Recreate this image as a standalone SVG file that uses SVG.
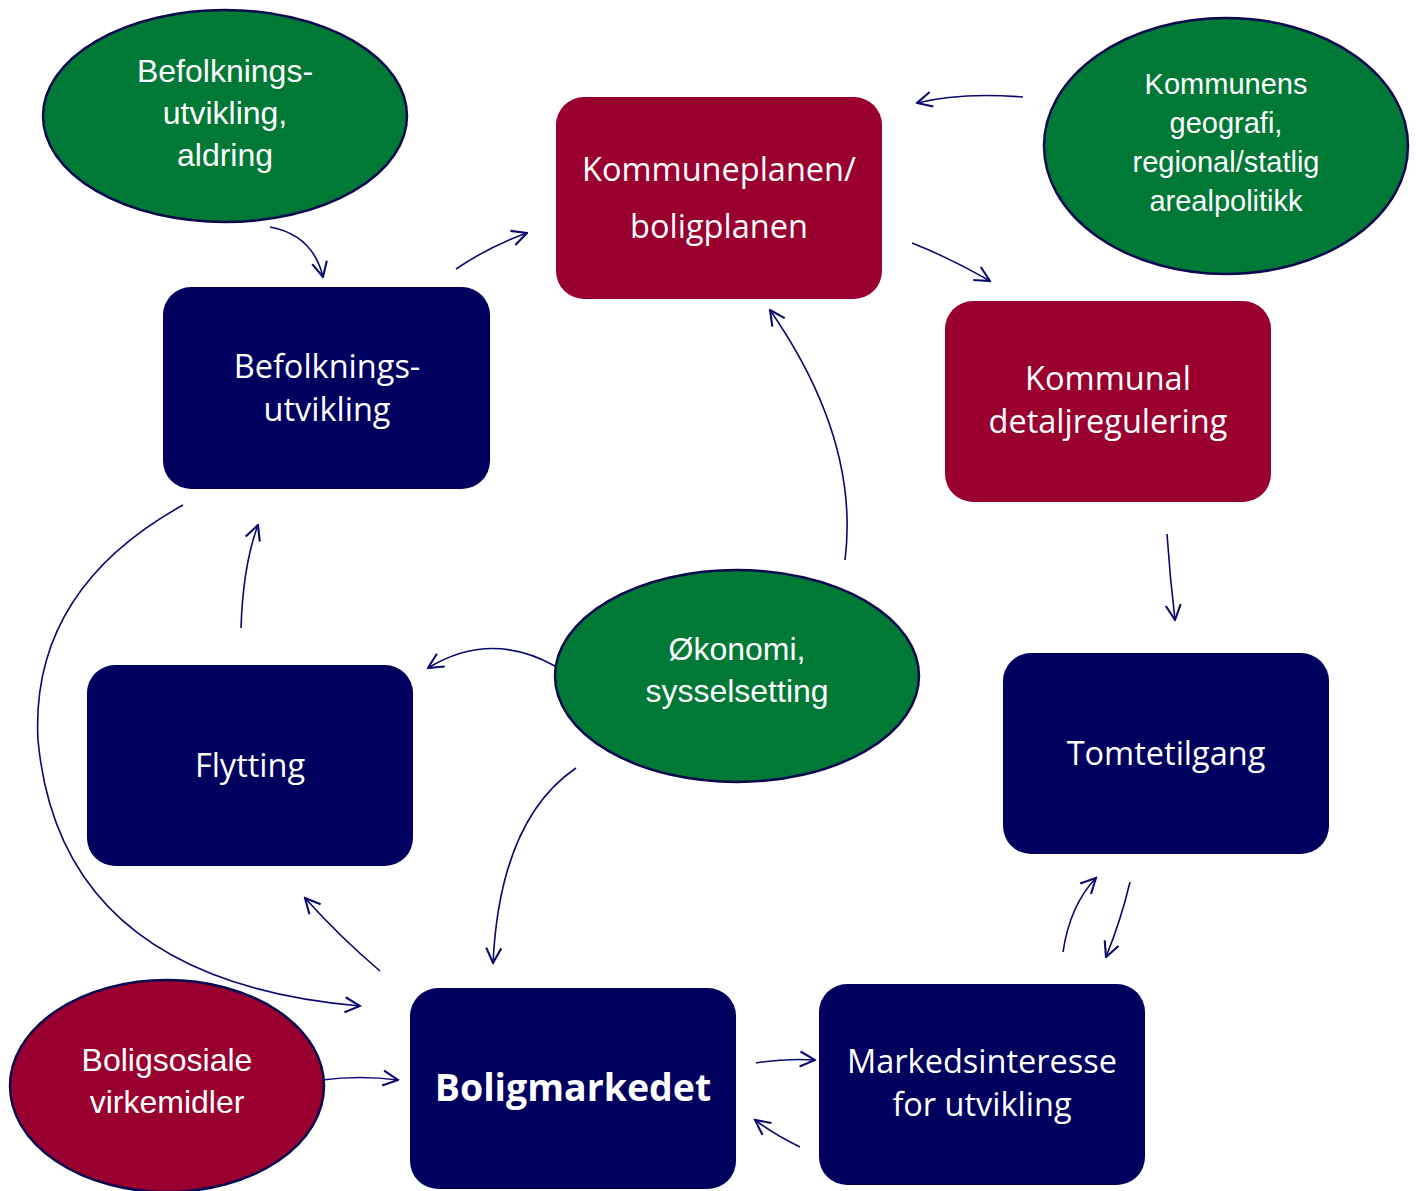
<svg xmlns="http://www.w3.org/2000/svg" width="1416" height="1191" viewBox="0 0 1416 1191">
<defs>
<marker id="arr" viewBox="0 0 12 12" refX="11" refY="6" markerWidth="18" markerHeight="18" markerUnits="userSpaceOnUse" orient="auto">
<path d="M1,1 L11,6 L1,11" fill="none" stroke="#0a0a6e" stroke-width="1.4"/>
</marker>
<style>
.box{stroke:none}
.navy{fill:#00005f}
.red{fill:#99002f}
.green{fill:#007836}
.ell{stroke:#0a0a50;stroke-width:2.5}
.bt{font-family:"Open Sans","Noto Sans",sans-serif;font-size:32.5px;fill:#fff;text-anchor:middle}
.et{font-family:"Liberation Sans",Arial,sans-serif;font-size:32px;fill:#fff;text-anchor:middle}
.c path{fill:none;stroke:#0a0a6e;stroke-width:1.6;marker-end:url(#arr)}
</style>
</defs>
<rect width="1416" height="1191" fill="#fff"/>
<g id="n-befolkning-ell"><ellipse class="green ell" cx="225" cy="116" rx="182" ry="106"/>
<text class="et" x="225" y="82">Befolknings-</text><text class="et" x="225" y="124">utvikling,</text><text class="et" x="225" y="166">aldring</text></g>
<g id="n-kommunens"><ellipse class="green ell" cx="1226" cy="146" rx="182" ry="128"/>
<text class="et" style="font-size:29px" x="1226" y="94">Kommunens</text><text class="et" style="font-size:29px" x="1226" y="133">geografi,</text><text class="et" style="font-size:29px" x="1226" y="172">regional/statlig</text><text class="et" style="font-size:29px" x="1226" y="211">arealpolitikk</text></g>
<g id="n-okonomi"><ellipse class="green ell" cx="737" cy="676" rx="182" ry="106"/>
<text class="et" x="737" y="660">Økonomi,</text><text class="et" x="737" y="702">sysselsetting</text></g>
<g id="n-boligsosiale"><ellipse class="red ell" cx="167" cy="1086" rx="157" ry="106"/>
<text class="et" x="167" y="1071">Boligsosiale</text><text class="et" x="167" y="1113">virkemidler</text></g>
<g id="n-kommuneplanen"><rect class="red" x="556" y="97" width="326" height="202" rx="28"/>
<text class="bt" x="719" y="181">Kommuneplanen/</text><text class="bt" x="719" y="238">boligplanen</text></g>
<g id="n-befolkning-box"><rect class="navy" x="163" y="287" width="327" height="202" rx="28"/>
<text class="bt" x="327" y="378">Befolknings-</text><text class="bt" x="327" y="421">utvikling</text></g>
<g id="n-detaljregulering"><rect class="red" x="945" y="301" width="326" height="201" rx="28"/>
<text class="bt" x="1108" y="390">Kommunal</text><text class="bt" x="1108" y="433">detaljregulering</text></g>
<g id="n-flytting"><rect class="navy" x="87" y="665" width="326" height="201" rx="28"/>
<text class="bt" x="250" y="777">Flytting</text></g>
<g id="n-tomtetilgang"><rect class="navy" x="1003" y="653" width="326" height="201" rx="28"/>
<text class="bt" x="1166" y="765">Tomtetilgang</text></g>
<g id="n-boligmarkedet"><rect class="navy" x="410" y="988" width="326" height="201" rx="28"/>
<text class="bt" style="font-size:37.5px;font-weight:bold" x="573" y="1101">Boligmarkedet</text></g>
<g id="n-markedsinteresse"><rect class="navy" x="819" y="984" width="326" height="201" rx="28"/>
<text class="bt" x="982" y="1073">Markedsinteresse</text><text class="bt" x="982" y="1116">for utvikling</text></g>
<g id="connectors" class="c">
<path d="M270,227 Q313,235 323,277"/>
<path d="M456,269 Q490,246 527,233"/>
<path d="M1023,97 Q960,92 917,103"/>
<path d="M912,243 Q950,258 990,281"/>
<path d="M845,560 Q860,440 770,310"/>
<path d="M1167,534 Q1170,578 1175,620"/>
<path d="M555,666 Q490,630 428,668"/>
<path d="M576,768 Q500,820 493,963"/>
<path d="M183,505 Q30,590 38,740 Q60,980 360,1006"/>
<path d="M241,628 Q243,565 258,525"/>
<path d="M380,971 Q340,937 305,898"/>
<path d="M322,1080 Q360,1075 398,1080"/>
<path d="M756,1063 Q785,1058 815,1060"/>
<path d="M800,1147 Q775,1135 755,1120"/>
<path d="M1063,952 Q1070,905 1096,878"/>
<path d="M1130,882 Q1121,920 1106,957"/>
</g>
</svg>
